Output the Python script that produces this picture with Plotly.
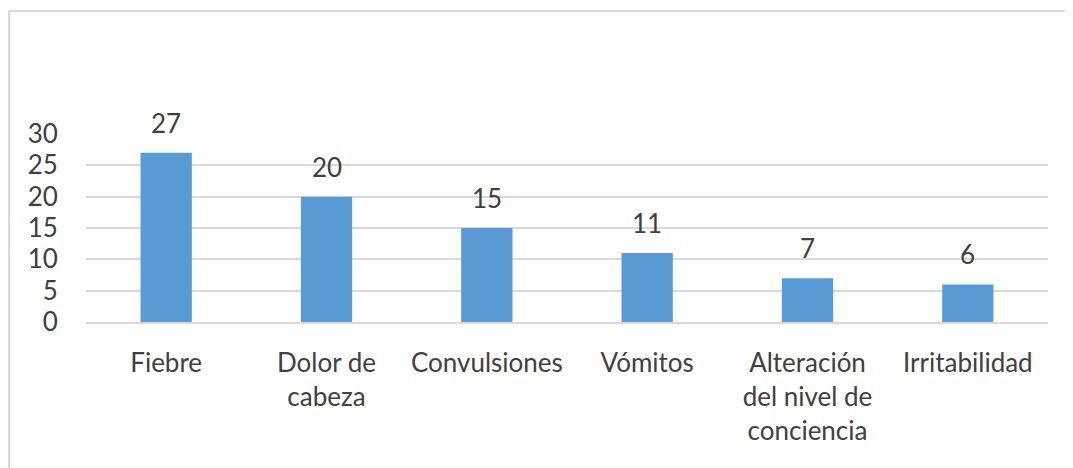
import plotly.graph_objects as go

categories = ["Fiebre", "Dolor de<br>cabeza", "Convulsiones", "Vómitos",
              "Alteración<br>del nivel de<br>conciencia", "Irritabilidad"]
values = [27, 20, 15, 11, 7, 6]
y_ticks = [0, 5, 10, 15, 20, 25, 30]

# page has an 8px body margin, so the figure is drawn from (8, 8)
W, H = 1065, 460
L, R, T, B = 78, 25, 126, 146
pw = W - L - R
ph = H - T - B

FONT = "Lato"
TXT = "#404040"
GRID = "#D9D9D9"
FS = 26

fig = go.Figure(go.Bar(
    x=categories, y=values,
    marker=dict(color="#5B9BD5", line=dict(width=0)),
    width=0.32,
    cliponaxis=False,
))

for c, v in zip(categories, values):
    fig.add_annotation(x=c, y=v, text=str(v), showarrow=False, yanchor="bottom",
                       yshift=12, font=dict(family=FONT, size=FS, color=TXT))

# chart border (left and top visible)
bx0 = (0 - L) / pw + 0.001
by1 = (H - B - 3) / ph
fig.add_shape(type="line", xref="paper", yref="paper", x0=bx0, x1=bx0, y0=-2, y1=by1,
              line=dict(color=GRID, width=2), layer="below")
fig.add_shape(type="line", xref="paper", yref="paper", x0=bx0, x1=1.2, y0=by1, y1=by1,
              line=dict(color=GRID, width=2), layer="below")

fig.update_layout(
    width=W, height=H,
    margin=dict(l=L, r=R, t=T, b=B),
    paper_bgcolor="white", plot_bgcolor="white",
    showlegend=False,
    font=dict(family=FONT, color=TXT),
    xaxis=dict(showgrid=False, showline=True, linecolor=GRID, linewidth=2,
               ticks="outside", ticklen=17, tickcolor="rgba(0,0,0,0)",
               tickfont=dict(family=FONT, size=FS, color=TXT)),
    yaxis=dict(range=[0, 30], tickvals=y_ticks, showgrid=True, gridcolor=GRID, gridwidth=2,
               zeroline=False, showline=False,
               ticks="outside", ticklen=22, tickcolor="rgba(0,0,0,0)",
               tickfont=dict(family=FONT, size=FS, color=TXT)),
)

fig.write_html("out.html")
